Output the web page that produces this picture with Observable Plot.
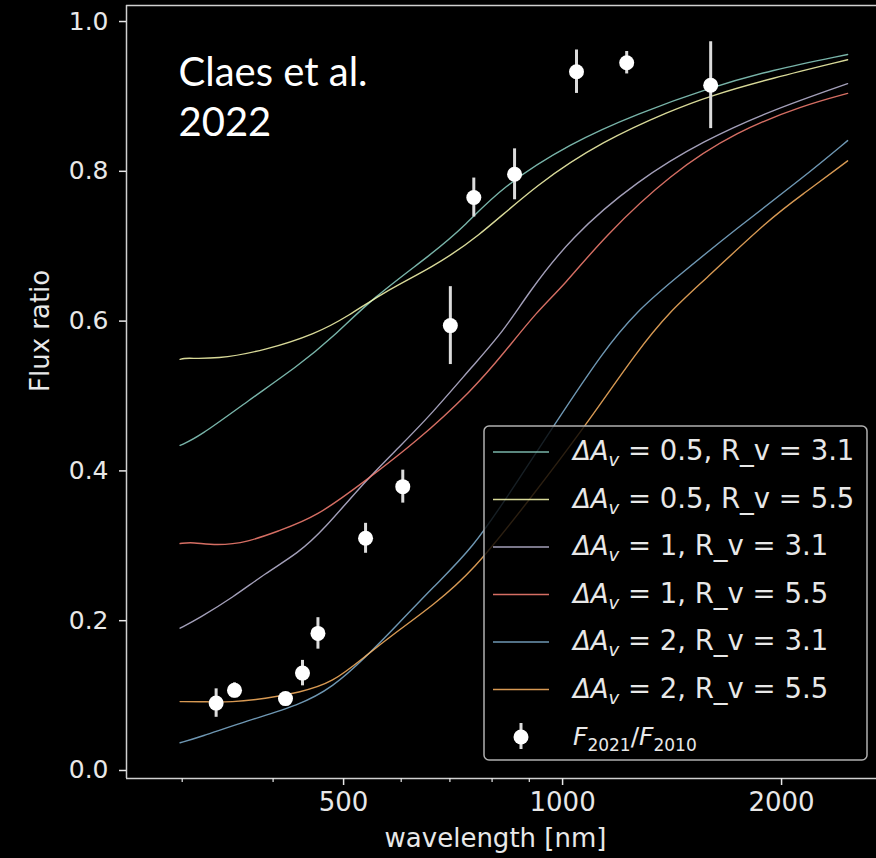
<!DOCTYPE html>
<html><head><meta charset="utf-8">
<script src="https://cdn.jsdelivr.net/npm/d3@7"></script>
<script src="https://cdn.jsdelivr.net/npm/@observablehq/plot@0.6"></script>
<style>html,body{margin:0;padding:0;background:#000;overflow:hidden;} #chart svg{display:block;}</style>
</head><body><div id="chart"></div>
<script>
// ---- data ----
const legendDeltaA = ["0.5", "0.5", "1", "1", "2", "2"];
const legendRv = ["3.1", "5.5", "3.1", "5.5", "3.1", "5.5"];
const seriesColors = ["#8dd3c7", "#feffb3", "#bfbbd9", "#fa8174", "#81b1d2", "#fdb462"];

const wlA05R31 = [298, 316, 370, 434, 483, 548, 662, 736, 822, 1026, 1268, 1598, 1932, 2465];
const fluxA05R31 = [0.434, 0.445, 0.494, 0.541, 0.578, 0.631, 0.690, 0.728, 0.778, 0.838, 0.877, 0.912, 0.935, 0.956];

const wlA05R55 = [298, 303, 334, 390, 458, 508, 566, 662, 759, 924, 1139, 1408, 1598, 1932, 2465];
const fluxA05R55 = [0.549, 0.551, 0.549, 0.561, 0.583, 0.607, 0.638, 0.672, 0.709, 0.784, 0.841, 0.881, 0.901, 0.924, 0.949];

const wlA1R31 = [298, 316, 352, 390, 434, 468, 536, 595, 662, 752, 830, 895, 1026, 1268, 1563, 1932, 2465];
const fluxA1R31 = [0.190, 0.203, 0.231, 0.263, 0.291, 0.320, 0.387, 0.431, 0.477, 0.540, 0.587, 0.636, 0.712, 0.788, 0.841, 0.881, 0.917];

const wlA1R55 = [298, 310, 334, 370, 407, 458, 536, 628, 752, 830, 924, 1003, 1139, 1408, 1740, 2144, 2465];
const fluxA1R55 = [0.303, 0.305, 0.300, 0.305, 0.320, 0.338, 0.387, 0.438, 0.508, 0.557, 0.614, 0.647, 0.712, 0.797, 0.854, 0.888, 0.904];

const wlA2R31 = [298, 316, 370, 434, 483, 536, 595, 662, 752, 856, 969, 1139, 1268, 1408, 1740, 2144, 2465];
const fluxA2R31 = [0.037, 0.044, 0.067, 0.087, 0.111, 0.151, 0.196, 0.244, 0.296, 0.378, 0.458, 0.561, 0.614, 0.652, 0.725, 0.792, 0.841];

const wlA2R55 = [298, 316, 352, 390, 434, 483, 536, 595, 662, 752, 898, 1075, 1268, 1408, 1548, 1932, 2144, 2465];
const fluxA2R55 = [0.092, 0.092, 0.091, 0.096, 0.104, 0.117, 0.153, 0.187, 0.220, 0.265, 0.360, 0.460, 0.561, 0.614, 0.650, 0.738, 0.770, 0.814];

const obsWl = [334, 354, 416, 439, 461, 536, 603, 701, 755, 859, 1045, 1225, 1598];
const obsFlux = [0.090, 0.107, 0.096, 0.130, 0.183, 0.310, 0.379, 0.594, 0.765, 0.796, 0.933, 0.945, 0.915];
const obsErr = [0.019, 0.010, 0.007, 0.017, 0.021, 0.020, 0.022, 0.052, 0.026, 0.034, 0.029, 0.015, 0.058];

const xTicks = [500, 1000, 2000];
const xMinorTicks = [300, 400, 600, 700, 800, 900];
const yTicks = [0, 0.2, 0.4, 0.6, 0.8, 1.0];
const xDomain = [251.5, 2701];
const yDomain = [-0.0107, 1.0214];

// ---- build tables ----
const seriesNames = legendDeltaA.map((a, i) => `ΔA_v = ${a}, R_v = ${legendRv[i]}`);
const seriesWl = [wlA05R31, wlA05R55, wlA1R31, wlA1R55, wlA2R31, wlA2R55];
const seriesFlux = [fluxA05R31, fluxA05R55, fluxA1R31, fluxA1R55, fluxA2R31, fluxA2R55];
const curves = seriesWl.flatMap((wl, i) => wl.map((w, j) => ({series: seriesNames[i], wl: w, flux: seriesFlux[i][j]})));
const obs = obsWl.map((w, i) => ({wl: w, flux: obsFlux[i], err: obsErr[i]}));

const spine = "#d0d0d0";
const textCol = "#e8e8e8";

const chart = Plot.plot({
  width: 876, height: 858,
  marginLeft: 126, marginRight: 0, marginTop: 5, marginBottom: 80,
  style: {background: "#000", color: textCol, fontFamily: "DejaVu Sans, sans-serif", fontSize: "25px"},
  x: {type: "log", domain: xDomain, label: null},
  y: {domain: yDomain, label: null},
  color: {domain: seriesNames, range: seriesColors},
  marks: [
    Plot.line(curves, {x: "wl", y: "flux", z: "series", stroke: "series", strokeWidth: 1.4, strokeOpacity: 0.85, curve: "basis"}),
    Plot.ruleX(obs, {x: "wl", y1: d => d.flux - d.err, y2: d => d.flux + d.err, stroke: "#dcdcdc", strokeWidth: 3}),
    Plot.dot(obs, {x: "wl", y: "flux", r: 7.5, fill: "white"}),
    Plot.ruleX([xDomain[0]], {stroke: spine, strokeWidth: 1.5}),
    Plot.ruleY([yDomain[0], yDomain[1]], {stroke: spine, strokeWidth: 1.5}),
    Plot.axisX({ticks: xTicks, tickSize: 7, tickPadding: 7, tickFormat: d3.format("d"), label: null, fontSize: 26, strokeWidth: 1.5}),
    Plot.axisX({ticks: xMinorTicks, tickSize: 4, tickFormat: () => "", label: null, strokeWidth: 1.2}),
    Plot.axisY({ticks: yTicks, tickSize: 7, tickPadding: 11, tickFormat: d3.format(".1f"), label: null, strokeWidth: 1.5}),
    Plot.text(["wavelength [nm]"], {text: d => d, frameAnchor: "bottom", dx: -6, dy: 68, lineAnchor: "bottom", fontSize: 26, fill: textCol}),
    Plot.text(["Flux ratio"], {text: d => d, frameAnchor: "left", dx: -78, rotate: -90, lineAnchor: "bottom", fontSize: 26, fill: textCol}),
    Plot.text(["Claes et al."], {text: d => d, frameAnchor: "top-left", dx: 52, dy: 80, lineAnchor: "bottom", textAnchor: "start", fontSize: 40, fontFamily: "Lato", fill: "white"}),
    Plot.text(["2022"], {text: d => d, frameAnchor: "top-left", dx: 52, dy: 130, lineAnchor: "bottom", textAnchor: "start", fontSize: 40, fontFamily: "Lato", fill: "white"})
  ]
});

// ---- legend (inside the axes, like matplotlib) ----
const svg = d3.select(chart);
const lg = svg.append("g").attr("font-family", "DejaVu Sans, sans-serif").attr("font-size", 27.5)
  .attr("fill", textCol).attr("text-anchor", "start").style("white-space", "pre");
lg.append("rect").attr("x", 484).attr("y", 426).attr("width", 383).attr("height", 334).attr("rx", 5)
  .attr("fill", "rgba(0,0,0,0.8)").attr("stroke", "#b0b0b0").attr("stroke-width", 1.5);
const rowY = i => 452 + i * 47.5;
seriesNames.forEach((name, i) => {
  const cy = rowY(i);
  lg.append("line").attr("x1", 493).attr("x2", 549).attr("y1", cy).attr("y2", cy)
    .attr("stroke", seriesColors[i]).attr("stroke-opacity", 0.85).attr("stroke-width", 1.5);
  const t = lg.append("text").attr("x", 573).attr("y", cy + 8);
  t.append("tspan").attr("font-style", "italic").attr("font-size", 26).text("ΔA");
  t.append("tspan").attr("font-style", "italic").attr("font-size", 18).attr("dy", 6).text("v");
  t.append("tspan").attr("dy", -6).text(` = ${legendDeltaA[i]}, R_v = ${legendRv[i]}`);
});
{
  const cy = rowY(6);
  lg.append("line").attr("x1", 521).attr("x2", 521).attr("y1", cy - 14).attr("y2", cy + 12)
    .attr("stroke", "#dcdcdc").attr("stroke-width", 3);
  lg.append("circle").attr("cx", 521).attr("cy", cy).attr("r", 7.5).attr("fill", "white");
  const t = lg.append("text").attr("x", 573).attr("y", cy + 8).attr("font-size", 25);
  t.append("tspan").attr("font-style", "italic").text("F");
  t.append("tspan").attr("font-size", 17).attr("dy", 6).text("2021");
  t.append("tspan").attr("dy", -6).text("/");
  t.append("tspan").attr("font-style", "italic").text("F");
  t.append("tspan").attr("font-size", 17).attr("dy", 6).text("2010");
}

document.getElementById("chart").appendChild(chart);
</script>
</body></html>
